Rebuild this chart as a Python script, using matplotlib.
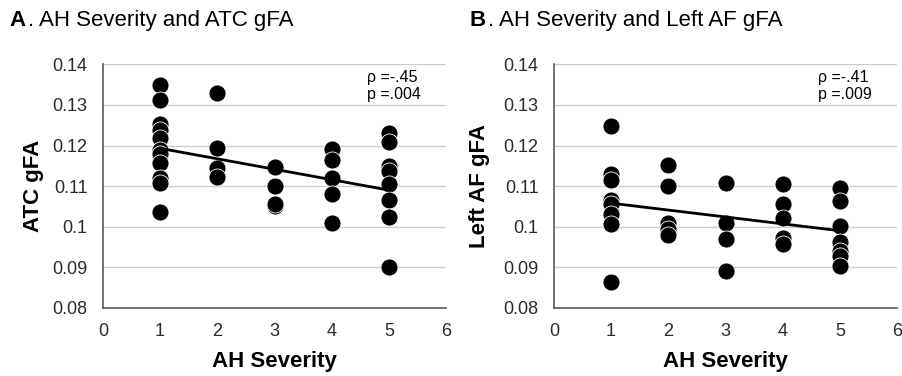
import numpy as np
import matplotlib
matplotlib.use('Agg')
import matplotlib.pyplot as plt

plt.rcParams['font.family'] = ['Liberation Sans', 'DejaVu Sans']

# AH severity vs ATC gFA
sev_a = [1, 1, 1, 1, 1, 1, 1, 1, 1, 1, 1,
         2, 2, 2, 2,
         3, 3, 3, 3,
         4, 4, 4, 4, 4,
         5, 5, 5, 5, 5, 5, 5, 5]
atc_gfa = [0.1349, 0.1312, 0.1253, 0.1239, 0.1218, 0.1190, 0.1180, 0.1157, 0.1120, 0.1108, 0.1036,
           0.1329, 0.1195, 0.1145, 0.1122,
           0.1147, 0.1100, 0.1051, 0.1055,
           0.1192, 0.1165, 0.1120, 0.1080, 0.1009,
           0.1232, 0.1208, 0.1149, 0.1137, 0.1104, 0.1067, 0.1025, 0.0900]
trend_a = [0.1193, 0.1090]

# AH severity vs left AF gFA
sev_b = [1, 1, 1, 1, 1, 1, 1, 1,
         2, 2, 2, 2, 2,
         3, 3, 3, 3,
         4, 4, 4, 4, 4,
         5, 5, 5, 5, 5, 5, 5]
af_gfa = [0.1249, 0.1129, 0.1114, 0.1067, 0.1055, 0.1031, 0.1006, 0.0863,
          0.1151, 0.1100, 0.1010, 0.0994, 0.0980,
          0.1108, 0.1010, 0.0969, 0.0892,
          0.1104, 0.1055, 0.1022, 0.0973, 0.0957,
          0.1096, 0.1063, 0.1002, 0.0963, 0.0941, 0.0929, 0.0904]
trend_b = [0.1058, 0.0990]
trend_x = [1, 5]

yticks = [0.08, 0.09, 0.1, 0.11, 0.12, 0.13, 0.14]
ytick_labels = ['0.08', '0.09', '0.1', '0.11', '0.12', '0.13', '0.14']

panels = [
    ('A', '. AH Severity and ATC gFA', 'ATC gFA', sev_a, atc_gfa, trend_a, 'ρ =-.45\np =.004'),
    ('B', '. AH Severity and Left AF gFA', 'Left AF gFA', sev_b, af_gfa, trend_b, 'ρ =-.41\np =.009'),
]

fig = plt.figure(figsize=(9.02, 3.76), dpi=100)
lefts = [0.114, 0.614]
ylab_x = [-0.203, -0.215]
for i, (letter, title, ylab, x, y, tr, stat) in enumerate(panels):
    ax = fig.add_axes([lefts[i], 0.181, 0.381, 0.648])
    ax.scatter(x, y, s=150, color='black', edgecolors='white', linewidths=0.6, zorder=3)
    ax.plot(trend_x, tr, color='black', lw=2, zorder=4)
    ax.set_xlim(0, 6)
    ax.set_ylim(0.08, 0.14)
    ax.set_yticks(yticks)
    ax.set_yticklabels(ytick_labels)
    ax.set_xticks(range(7))
    ax.tick_params(length=0, labelsize=13, colors='#2b2b2b', pad=11)
    ax.grid(axis='y', color='#cccccc', lw=1)
    ax.set_axisbelow(True)
    for s in ['top', 'right']:
        ax.spines[s].set_visible(False)
    for s in ['left', 'bottom']:
        ax.spines[s].set_color('#595959')
        ax.spines[s].set_linewidth(1.2)
    ax.set_xlabel('AH Severity', fontsize=16, fontweight='bold', va='center')
    ax.xaxis.set_label_coords(0.5, -0.22)
    ax.set_ylabel(ylab, fontsize=16, fontweight='bold', va='center')
    ax.yaxis.set_label_coords(ylab_x[i], 0.5)
    ax.text(4.61, 0.1386, stat, fontsize=11.5, va='top', ha='left', linespacing=1.2)
    tx = 0.011 if i == 0 else 0.521
    fig.text(tx, 0.931, letter, fontsize=16, fontweight='bold', ha='left', va='baseline')
    fig.text(tx + 0.020, 0.931, title, fontsize=16, ha='left', va='baseline')

fig.savefig('out.png', dpi=100)
